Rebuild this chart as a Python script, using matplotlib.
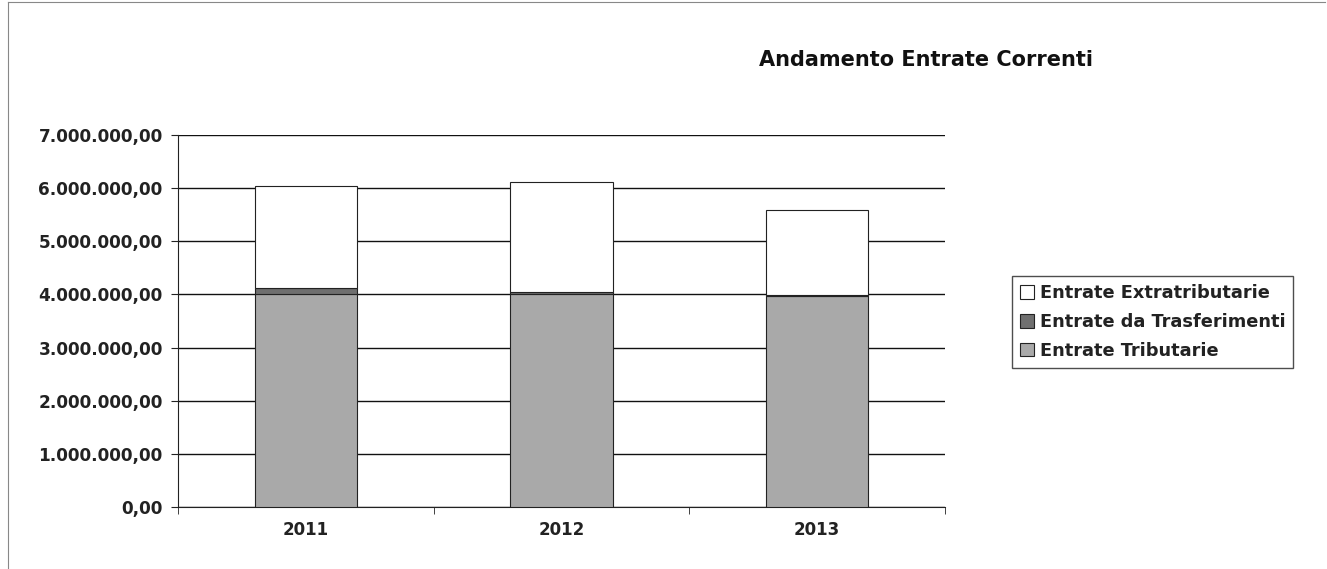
import numpy as np
import matplotlib.pyplot as plt
from matplotlib.lines import Line2D

# dati
anni = ['2011', '2012', '2013']
tributarie = [4000000, 4000000, 3970000]
trasferimenti = [120000, 50000, 20000]
extratributarie = [1920000, 2060000, 1600000]

plt.rcParams['font.family'] = ['DejaVu Sans']

fig = plt.figure(figsize=(13.27, 5.69), dpi=100)
ax = fig.add_axes([178 / 1327, 1 - 507 / 569, 767 / 1327, 372 / 569])

x = np.arange(len(anni))
w = 0.4
b1 = np.array(tributarie)
b2 = b1 + np.array(trasferimenti)

ax.bar(x, tributarie, w, color='#a9a9a9', edgecolor='#222222', lw=0.8,
       label='Entrate Tributarie', zorder=3)
ax.bar(x, trasferimenti, w, bottom=b1, color='#6f6f6f', edgecolor='#222222', lw=0.8,
       label='Entrate da Trasferimenti', zorder=3)
ax.bar(x, extratributarie, w, bottom=b2, color='white', edgecolor='#222222', lw=0.8,
       label='Entrate Extratributarie', zorder=3)

ax.set_xlim(-0.5, 2.5)
ax.set_ylim(0, 7000000)
yt = np.arange(0, 7000001, 1000000)
ax.set_yticks(yt)
ax.set_yticklabels([f'{v:,.2f}'.replace(',', 'X').replace('.', ',').replace('X', '.') for v in yt],
                   fontsize=12.2, fontweight='bold', color='#222222')
ax.set_xticks(x)
ax.set_xticklabels(anni, fontsize=12, fontweight='bold', color='#222222')
ax.set_xticks([-0.5, 0.5, 1.5, 2.5], minor=True)
ax.tick_params(axis='x', which='major', length=0, pad=10)
ax.tick_params(axis='x', which='minor', length=5, color='#222222', direction='out')
ax.tick_params(axis='y', length=5, color='#222222', pad=6)
ax.yaxis.grid(True, color='#111111', lw=1.0, zorder=0)
for s in ['top', 'right']:
    ax.spines[s].set_visible(False)
ax.spines['left'].set_color('#222222')
ax.spines['bottom'].set_color('#222222')

fig.text(926 / 1327, 1 - 60 / 569, 'Andamento Entrate Correnti', ha='center', va='center',
         fontsize=15, fontweight='bold', color='#111111')

h, l = ax.get_legend_handles_labels()
leg = fig.legend(h[::-1], l[::-1], loc='center left', bbox_to_anchor=(1012 / 1327, 1 - 322 / 569),
                 fontsize=12.8, frameon=True, fancybox=False, edgecolor='#222222',
                 handlelength=0.8, handleheight=0.8, handletextpad=0.3, borderpad=0.45,
                 labelspacing=0.6, borderaxespad=0)
leg.get_frame().set_linewidth(1.0)
for t in leg.get_texts():
    t.set_fontweight('bold')
    t.set_color('#222222')

# cornice esterna (solo lato sinistro e superiore)
fig.add_artist(Line2D([8 / 1327, 8 / 1327], [0, 1 - 2 / 569], transform=fig.transFigure,
                      color='#888888', lw=0.8))
fig.add_artist(Line2D([8 / 1327, 1325 / 1327], [1 - 2 / 569, 1 - 2 / 569], transform=fig.transFigure,
                      color='#888888', lw=0.8))

fig.savefig('out.png', dpi=100)
